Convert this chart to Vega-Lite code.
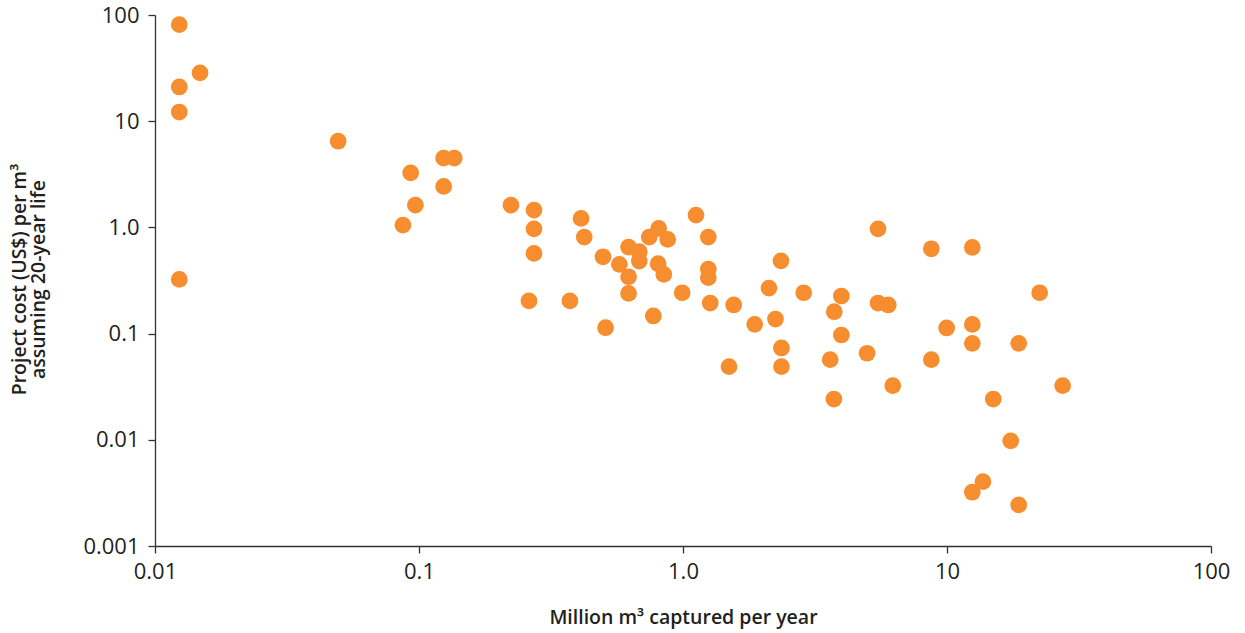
{
  "$schema": "https://vega.github.io/schema/vega-lite/v6.json",
  "autosize": {"type": "none"},
  "padding": {"left": 155, "top": 15, "right": 34, "bottom": 87},
  "width": 1056,
  "height": 531,
  "background": "white",
  "config": {"view": {"stroke": null}},
  "data": {"values": [
    {"x": 0.01236, "y": 81.3}, {"x": 0.01236, "y": 21.0}, {"x": 0.01481, "y": 28.5}, {"x": 0.01236, "y": 12.2}, {"x": 0.01236, "y": 0.324},
    {"x": 0.0494, "y": 6.48}, {"x": 0.093, "y": 3.26}, {"x": 0.0969, "y": 1.62}, {"x": 0.0869, "y": 1.05}, {"x": 0.124, "y": 4.49},
    {"x": 0.136, "y": 4.49}, {"x": 0.124, "y": 2.43}, {"x": 0.223, "y": 1.62}, {"x": 0.2727, "y": 1.455}, {"x": 0.2727, "y": 0.97},
    {"x": 0.2727, "y": 0.569}, {"x": 0.261, "y": 0.203}, {"x": 0.373, "y": 0.203}, {"x": 0.411, "y": 1.216}, {"x": 0.4226, "y": 0.811},
    {"x": 0.4977, "y": 0.529}, {"x": 0.509, "y": 0.1136}, {"x": 0.574, "y": 0.449}, {"x": 0.622, "y": 0.653}, {"x": 0.622, "y": 0.343},
    {"x": 0.622, "y": 0.239}, {"x": 0.683, "y": 0.59}, {"x": 0.683, "y": 0.482}, {"x": 0.745, "y": 0.811}, {"x": 0.809, "y": 0.979},
    {"x": 0.875, "y": 0.771}, {"x": 0.805, "y": 0.455}, {"x": 0.846, "y": 0.361}, {"x": 0.772, "y": 0.1465}, {"x": 0.993, "y": 0.2425},
    {"x": 1.12, "y": 1.305}, {"x": 1.247, "y": 0.811}, {"x": 1.247, "y": 0.405}, {"x": 1.247, "y": 0.337}, {"x": 1.268, "y": 0.194},
    {"x": 1.494, "y": 0.0489}, {"x": 1.556, "y": 0.186}, {"x": 1.869, "y": 0.1223}, {"x": 2.117, "y": 0.2685}, {"x": 2.24, "y": 0.1372},
    {"x": 2.35, "y": 0.484}, {"x": 2.36, "y": 0.0732}, {"x": 2.36, "y": 0.0489}, {"x": 2.865, "y": 0.2425}, {"x": 3.61, "y": 0.0568},
    {"x": 3.74, "y": 0.1607}, {"x": 3.73, "y": 0.0242}, {"x": 3.98, "y": 0.226}, {"x": 3.98, "y": 0.097}, {"x": 4.98, "y": 0.0653},
    {"x": 5.48, "y": 0.97}, {"x": 5.48, "y": 0.194}, {"x": 5.99, "y": 0.186}, {"x": 6.23, "y": 0.0324}, {"x": 8.72, "y": 0.629},
    {"x": 8.72, "y": 0.0568}, {"x": 9.97, "y": 0.113}, {"x": 12.47, "y": 0.648}, {"x": 12.47, "y": 0.122}, {"x": 12.47, "y": 0.081},
    {"x": 12.47, "y": 0.00321}, {"x": 13.68, "y": 0.00404}, {"x": 14.97, "y": 0.0242}, {"x": 17.43, "y": 0.00977}, {"x": 18.69, "y": 0.00244},
    {"x": 18.69, "y": 0.081}, {"x": 22.44, "y": 0.2425}, {"x": 27.42, "y": 0.0324}
  ]},
  "mark": {"type": "circle", "size": 280, "color": "#F68D2E", "opacity": 1},
  "encoding": {
    "x": {
      "field": "x", "type": "quantitative",
      "scale": {"type": "log", "domain": [0.01, 100], "nice": false},
      "axis": {
        "values": [0.01, 0.1, 1, 10, 100],
        "labelExpr": "datum.value == 1 ? '1.0' : datum.value == 0.01 ? '0.01' : datum.value == 0.1 ? '0.1' : datum.value == 10 ? '10' : '100'",
        "title": "Million m³ captured per year",
        "titleFont": "Open Sans", "titleFontSize": 19.5, "titleFontWeight": 600, "titleColor": "#231F20",
        "titlePadding": 26,
        "labelFont": "Open Sans", "labelFontSize": 22, "labelColor": "#231F20", "labelPadding": 8,
        "labelFlush": false, "labelOverlap": false,
        "grid": false, "domainColor": "#333333", "domainWidth": 1.3, "tickColor": "#333333", "tickWidth": 1.3, "tickSize": 7
      }
    },
    "y": {
      "field": "y", "type": "quantitative",
      "scale": {"type": "log", "domain": [0.001, 100], "nice": false},
      "axis": {
        "values": [0.001, 0.01, 0.1, 1, 10, 100],
        "labelExpr": "datum.value == 1 ? '1.0' : datum.value == 0.001 ? '0.001' : datum.value == 0.01 ? '0.01' : datum.value == 0.1 ? '0.1' : datum.value == 10 ? '10' : '100'",
        "title": ["Project cost (US$) per m³", "assuming 20-year life"],
        "titleFont": "Open Sans", "titleFontSize": 19.5, "titleFontWeight": 600, "titleColor": "#231F20",
        "titleX": -136, "titleY": 264, "titleAlign": "center", "titleBaseline": "middle", "titleLineHeight": 19.5,
        "labelFont": "Open Sans", "labelFontSize": 22, "labelColor": "#231F20", "labelPadding": 9,
        "labelFlush": false, "labelOverlap": false,
        "grid": false, "domainColor": "#333333", "domainWidth": 1.3, "tickColor": "#333333", "tickWidth": 1.3, "tickSize": 7
      }
    }
  }
}
